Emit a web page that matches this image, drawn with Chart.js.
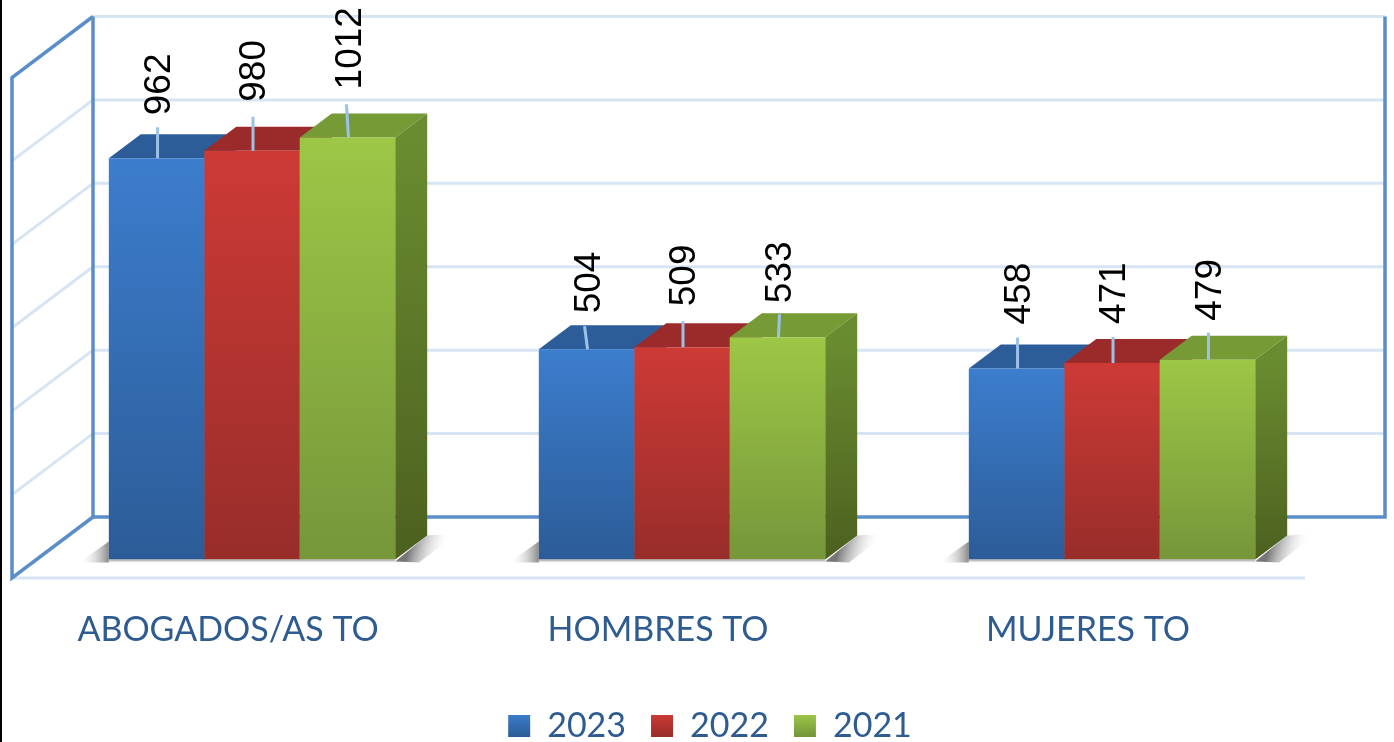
<!DOCTYPE html>
<html lang="es">
<head>
<meta charset="utf-8">
<style>
html,body{margin:0;padding:0;background:#fff;overflow:hidden}
#wrap{position:relative;width:1394px;height:742px}
#edge{position:absolute;left:0;top:0;width:2px;height:742px;background:#000}
canvas{display:block}
</style>
<script src="https://cdn.jsdelivr.net/npm/chart.js@4/dist/chart.umd.js"></script>
</head>
<body>
<div id="wrap"><canvas id="c" width="1394" height="742"></canvas><div id="edge"></div></div>
<script>
const categories = ['ABOGADOS/AS TO', 'HOMBRES TO', 'MUJERES TO'];
const seriesNames = ['2023', '2022', '2021'];
const values2023 = [962, 504, 458];
const values2022 = [980, 509, 471];
const values2021 = [1012, 533, 479];
const axisMax = 1200;
const axisStep = 200;

// Colours per series: light front, dark front, top face, side top, side bottom
const blue  = {hi:'#3C7DCD', lo:'#2C5C97', top:'#2C5D99', sideHi:'#2C5D99', sideLo:'#234A7A'};
const red   = {hi:'#CD3A36', lo:'#982D2A', top:'#9A2B2A', sideHi:'#8E2A28', sideLo:'#6E2120'};
const green = {hi:'#9DC746', lo:'#76963A', top:'#769A35', sideHi:'#6A8C30', sideLo:'#4C601F'};
const palette = [blue, red, green];

// Drawing style of the 3D look
const depth = {dx: 32, dy: -24};
const wall = {backDx: 56, backDy: -42.5, sideDx: -81, sideDy: 61, rightX: 1385, floorEnd: 1305};
const wallColor = '#5B8DC9', gridColor = '#D6E4F4', leaderColor = '#9CC2E8';
const textBlue = '#2F5C90';
// Leader line length and label gap above each bar (series by category)
const leaderLen = [[31,23,31],[34,26,26],[33,23,27]];
const leaderLean = [[0,-3,0],[0,0,0],[-2,1,0]];
const labelGap = [[43,36,44],[49,41,39],[48,34,39]];

const seriesValues = [values2023, values2022, values2021];

function frontFill(i){
  return function(c){
    const p = palette[i];
    const y = c.chart.scales && c.chart.scales.y;
    if(!y || c.raw === undefined) return p.hi;
    const g = c.chart.ctx.createLinearGradient(0, y.getPixelForValue(c.raw), 0, y.getPixelForValue(0));
    g.addColorStop(0, p.hi); g.addColorStop(1, p.lo);
    return g;
  };
}

function line(ctx, x1, y1, x2, y2){ ctx.beginPath(); ctx.moveTo(x1,y1); ctx.lineTo(x2,y2); ctx.stroke(); }
function poly(ctx, pts, fill){
  ctx.beginPath(); pts.forEach((p,i)=> i ? ctx.lineTo(p[0],p[1]) : ctx.moveTo(p[0],p[1]));
  ctx.closePath(); ctx.fillStyle = fill; ctx.fill();
}

const walls3d = {
  id:'walls3d',
  beforeDatasetsDraw(chart){
    const {ctx, scales:{y}, chartArea:a} = chart;
    const bx = a.left + wall.backDx, fx = bx + wall.sideDx;
    ctx.save();
    ctx.lineCap = 'butt';
    // gridlines on the back and side walls, from the y scale's ticks
    ctx.strokeStyle = gridColor; ctx.lineWidth = 3;
    y.ticks.forEach(t=>{
      const py = y.getPixelForValue(t.value) + wall.backDy;
      if(t.value !== 0) line(ctx, bx, py, wall.rightX, py);
      if(t.value !== 0 && t.value !== axisMax) line(ctx, bx, py, fx, py + wall.sideDy);
    });
    const y0 = y.getPixelForValue(0) + wall.backDy, yT = y.getPixelForValue(axisMax) + wall.backDy;
    line(ctx, fx, y0 + wall.sideDy, wall.floorEnd, y0 + wall.sideDy);
    // strong frame
    ctx.strokeStyle = wallColor; ctx.lineWidth = 3.5; ctx.lineJoin = 'miter';
    ctx.beginPath();
    ctx.moveTo(bx, yT); ctx.lineTo(bx, y0); ctx.lineTo(wall.rightX, y0); ctx.lineTo(wall.rightX, yT);
    ctx.stroke();
    ctx.beginPath();
    ctx.moveTo(bx, yT); ctx.lineTo(fx, yT + wall.sideDy); ctx.lineTo(fx, y0 + wall.sideDy); ctx.lineTo(bx, y0);
    ctx.stroke();
    // floor shadows and depth faces of every bar
    const metas = seriesValues.map((_,i)=>chart.getDatasetMeta(i));
    categories.forEach((_,k)=>{
      const first = metas[0].data[k], last = metas[2].data[k];
      const xl = first.x - first.width/2, xr = last.x + last.width/2, yb = y.getPixelForValue(0);
      let g = ctx.createLinearGradient(xl, 0, xl-30, 0);
      g.addColorStop(0,'#8a8a8a'); g.addColorStop(1,'rgba(255,255,255,0)');
      poly(ctx, [[xl,yb-18],[xl,yb+3],[xl-30,yb+3]], g);
      g = ctx.createLinearGradient(0, yb, 0, yb+4);
      g.addColorStop(0,'#8a8a8a'); g.addColorStop(1,'rgba(255,255,255,0)');
      poly(ctx, [[xl,yb],[xr,yb],[xr,yb+4],[xl,yb+4]], g);
      g = ctx.createLinearGradient(xr+14, yb-12, xr+50, yb-2);
      g.addColorStop(0,'#777777'); g.addColorStop(1,'rgba(255,255,255,0)');
      poly(ctx, [[xr,yb+2],[xr+depth.dx,yb+depth.dy],[xr+62,yb+depth.dy-2],[xr+24,yb+3]], g);
      metas.forEach((m,i)=>{
        const el = m.data[k], p = palette[i];
        const l = el.x - el.width/2, r = el.x + el.width/2, t = el.y, b = el.base;
        poly(ctx, [[l,t],[r,t],[r+depth.dx,t+depth.dy],[l+depth.dx,t+depth.dy]], p.top);
        const s = ctx.createLinearGradient(0,t,0,b);
        s.addColorStop(0,p.sideHi); s.addColorStop(1,p.sideLo);
        poly(ctx, [[r,t],[r+depth.dx,t+depth.dy],[r+depth.dx,b+depth.dy],[r,b]], s);
      });
    });
    ctx.restore();
  }
};

const labels3d = {
  id:'labels3d',
  afterDatasetsDraw(chart){
    const {ctx} = chart;
    ctx.save();
    seriesValues.forEach((vals,i)=>{
      chart.getDatasetMeta(i).data.forEach((el,k)=>{
        const len = leaderLen[i][k], lean = leaderLean[i][k];
        ctx.strokeStyle = leaderColor; ctx.lineWidth = 3;
        line(ctx, el.x + 1, el.y, el.x + 1 + lean, el.y - len);
        ctx.save();
        ctx.translate(el.x + 3, el.y - labelGap[i][k]);
        ctx.rotate(-Math.PI/2);
        ctx.fillStyle = '#000';
        ctx.font = '37px "Liberation Sans"';
        ctx.textAlign = 'left'; ctx.textBaseline = 'middle';
        ctx.fillText(String(vals[k]), 0, 0);
        ctx.restore();
      });
    });
    ctx.restore();
  }
};

function legendFill(ctx, p){
  const g = ctx.createLinearGradient(0, 714, 0, 736);
  g.addColorStop(0, p.hi); g.addColorStop(1, p.lo);
  return g;
}

const canvas = document.getElementById('c');
new Chart(canvas, {
  type:'bar',
  data:{
    labels: categories,
    datasets: seriesNames.map((n,i)=>({
      label:n, data:seriesValues[i], backgroundColor:frontFill(i), borderWidth:0,
      barPercentage:1, categoryPercentage:0.666
    }))
  },
  options:{
    responsive:false, animation:false,
    layout:{padding:{left:37,right:11,top:59,bottom:-11}},
    scales:{
      x:{
        grid:{display:false}, border:{display:false},
        ticks:{color:textBlue, font:{family:'Lato',size:34}, padding:42, labelOffset:-24, maxRotation:0, autoSkip:false},
        afterFit(s){ s.height = 124.5; }
      },
      y:{
        position:'right', min:0, max:axisMax,
        grid:{display:false}, border:{display:false},
        ticks:{display:false, stepSize:axisStep},
        afterFit(s){ s.width = 56; }
      }
    },
    plugins:{
      tooltip:{enabled:false},
      title:{display:false},
      legend:{
        position:'bottom',
        labels:{
          boxWidth:22, boxHeight:22, padding:25, color:textBlue,
          font:{family:'Lato',size:34},
          generateLabels(chart){
            return seriesNames.map((n,i)=>({
              text:n, fillStyle:legendFill(chart.ctx,palette[i]), strokeStyle:'transparent',
              lineWidth:0, fontColor:textBlue, datasetIndex:i
            }));
          }
        }
      }
    }
  },
  plugins:[walls3d, labels3d]
});
</script>
</body>
</html>
